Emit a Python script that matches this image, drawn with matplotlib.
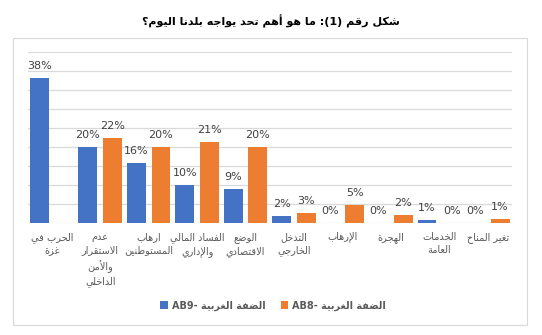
import numpy as np
import matplotlib
matplotlib.use("Agg")
import matplotlib.pyplot as plt
from matplotlib.patches import Patch, Rectangle

# survey results, percent (None = not asked in that wave)
categories = [
    "الحرب في\nغزة",
    "عدم\nالاستقرار\nوالأمن\nالداخلي",
    "ارهاب\nالمستوطنين",
    "الفساد المالي\nوالإداري",
    "الوضع\nالاقتصادي",
    "التدخل\nالخارجي",
    "الإرهاب",
    "الهجرة",
    "الخدمات\nالعامة",
    "تغير المناخ",
]
ab9 = [38.2, 20, 16, 10, 9, 2, 0, 0, 1, 0.2]
ab8 = [None, 22.4, 20, 21.4, 20, 2.6, 4.8, 2.2, 0.2, 1.1]
series_names = ["AB9-", "AB8-"]
region_name = "الضفة الغربية"
title = "شكل رقم (1): ما هو أهم تحد يواجه بلدنا اليوم؟"

BLUE = "#4472C4"
ORANGE = "#ED7D31"
GRID = "#D9D9D9"
TEXT = "#595959"


def _build_forms():
    # Arabic presentation forms B, laid out in Unicode order from U+FE80
    letters = "ءآأؤإئابةتثجحخدذرزسشصضطظعغفقكلمنهوىي"
    counts = [1, 2, 2, 2, 2, 4, 2, 4, 2, 4, 4, 4, 4, 4, 2, 2, 2, 2, 4, 4,
              4, 4, 4, 4, 4, 4, 4, 4, 4, 4, 4, 4, 4, 2, 2, 4]
    forms, code = {}, 0xFE80
    for ch, n in zip(letters, counts):
        forms[ch] = [chr(code + k) for k in range(n)]
        code += n
    return forms


FORMS = _build_forms()
LAM_ALEF = {"آ": 0xFEF5, "أ": 0xFEF7, "إ": 0xFEF9, "ا": 0xFEFB}


def _joins(ch):
    return ch in FORMS and len(FORMS[ch]) > 1


def _dual(ch):
    return ch in FORMS and len(FORMS[ch]) == 4


def shape(text):
    out, i, n = [], 0, len(text)
    while i < n:
        ch = text[i]
        if ch not in FORMS:
            out.append(ch)
            i += 1
            continue
        prev = text[i - 1] if i > 0 else ""
        link_prev = _dual(prev) and _joins(ch)
        if ch == "ل" and i + 1 < n and text[i + 1] in LAM_ALEF:
            out.append(chr(LAM_ALEF[text[i + 1]] + (1 if link_prev else 0)))
            i += 2
            continue
        link_next = _dual(ch) and i + 1 < n and _joins(text[i + 1])
        if link_prev and link_next:
            k = 3
        elif link_prev:
            k = 1
        elif link_next:
            k = 2
        else:
            k = 0
        out.append(FORMS[ch][k])
        i += 1
    return "".join(out)


def rtl(text):
    lines = []
    for line in text.split("\n"):
        s = shape(line)[::-1]
        s = s.translate(str.maketrans("()", ")("))
        lines.append(s)
    return "\n".join(lines)


plt.rcParams["font.family"] = ["DejaVu Sans"]

fig = plt.figure(figsize=(5.42, 3.35), dpi=100)
fig.patch.set_facecolor("white")

# chart area frame
fig.add_artist(Rectangle((13 / 542, 10 / 335), 514 / 542, 287 / 335,
                         transform=fig.transFigure, fill=False,
                         edgecolor=GRID, linewidth=0.8))

fig.text(0.5, 1 - 21 / 335, rtl(title), ha="center", va="center",
         fontsize=8, fontweight="bold", color="black")

ax = fig.add_axes([27.5 / 542, 1 - 223.3 / 335, 484.5 / 542, 171 / 335])

x = np.arange(len(categories))
width = 0.39
offset = 0.255

v9 = np.array([np.nan if v is None else v for v in ab9], dtype=float)
v8 = np.array([np.nan if v is None else v for v in ab8], dtype=float)

b9 = ax.bar(x - offset, v9, width, color=BLUE, zorder=3)
b8 = ax.bar(x + offset, v8, width, color=ORANGE, zorder=3)

for bars, vals in ((b9, v9), (b8, v8)):
    labels = ["" if np.isnan(v) else f"{round(v):.0f}%" for v in vals]
    ax.bar_label(bars, labels=labels, padding=5, fontsize=8, color="#404040")

ax.set_xlim(-0.5, len(categories) - 0.5)
ax.set_ylim(0, 45)
ax.set_yticks(np.arange(0, 46, 5))
ax.yaxis.grid(True, color=GRID, linewidth=0.9, zorder=0)
ax.set_axisbelow(True)
ax.tick_params(axis="y", left=False, labelleft=False)
ax.set_xticks(x)
ax.set_xticklabels([rtl(c) for c in categories], fontsize=7, color=TEXT,
                   linespacing=1.45)
ax.tick_params(axis="x", length=0, pad=6)
for side in ax.spines.values():
    side.set_visible(False)

handles = [Patch(facecolor=BLUE), Patch(facecolor=ORANGE)]
names = [f"{s} {rtl(region_name)}" for s in series_names]
fig.legend(handles, names, loc="center", bbox_to_anchor=(273 / 542, 1 - 305.5 / 335),
           ncol=2, frameon=False, handlelength=0.8, handleheight=0.8,
           handletextpad=0.4, columnspacing=1.6,
           prop={"size": 7, "weight": "bold"}, labelcolor=TEXT)

fig.savefig("out.png", dpi=100, facecolor="white")
